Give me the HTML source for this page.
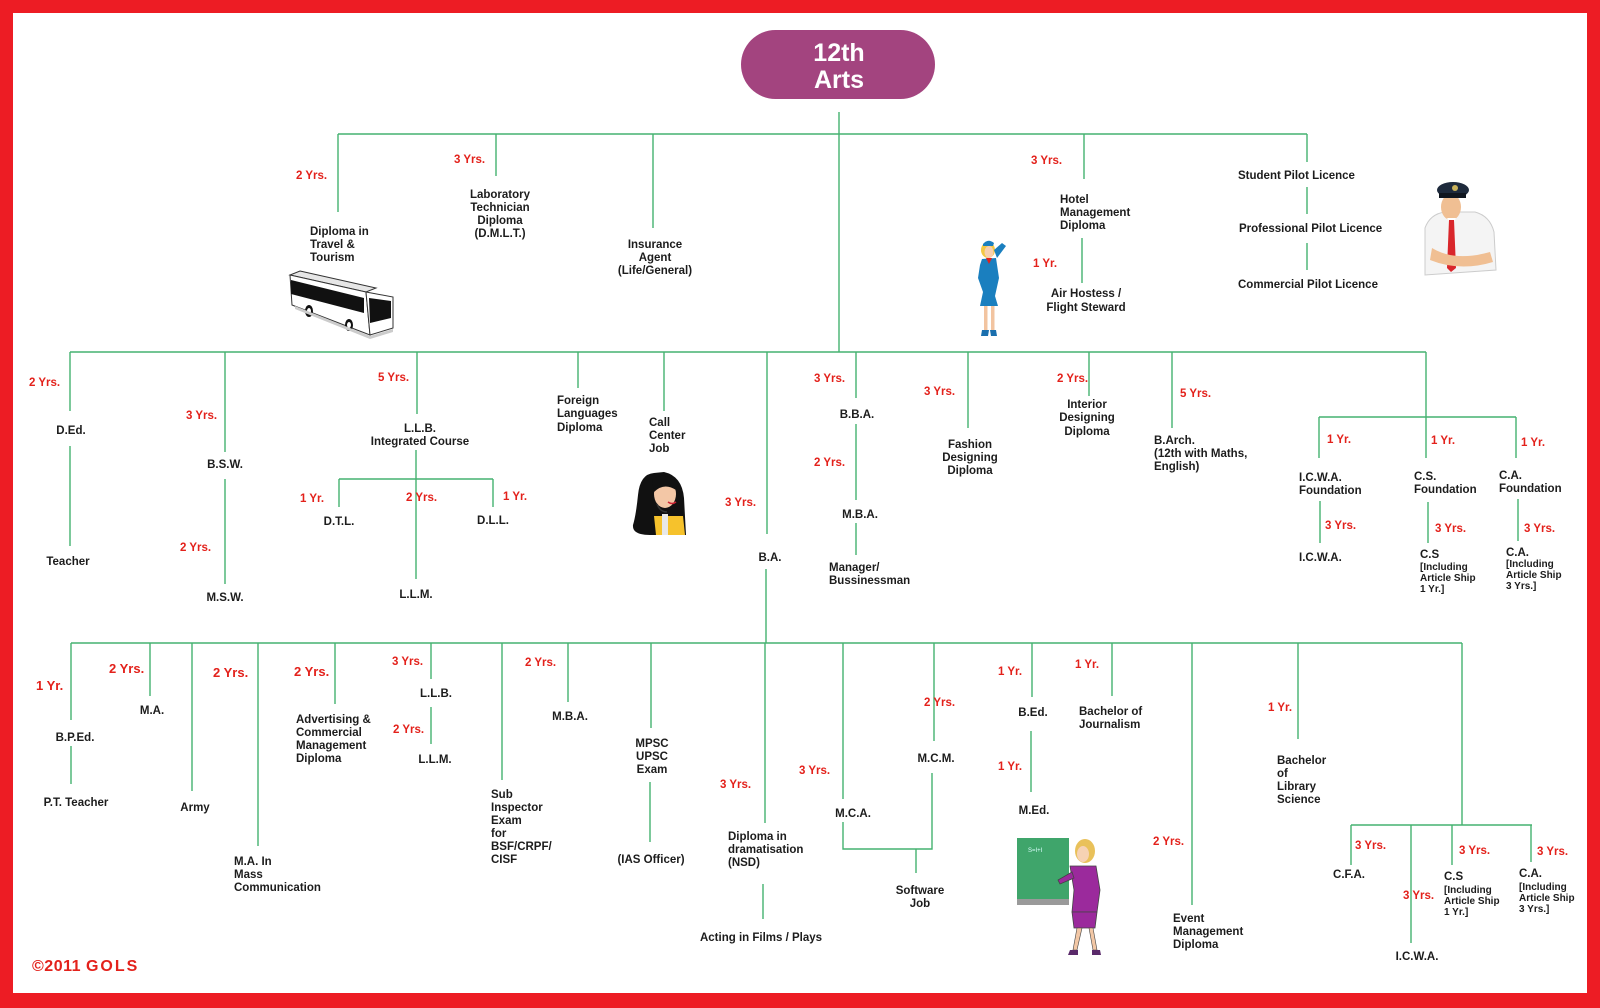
<!DOCTYPE html>
<html>
<head>
<meta charset="utf-8">
<style>
html,body{margin:0;padding:0;background:#fff;}
svg{display:block;}
text{font-family:"Liberation Sans",Arial,sans-serif;font-weight:bold;}
.t{font-size:11.5px;fill:#1c1c1c;}
.s{font-size:10px;fill:#1c1c1c;}
.r{font-size:11.5px;fill:#e3211b;}
.R{font-size:13px;fill:#e3211b;}
.m{text-anchor:middle;}
</style>
</head>
<body>
<svg width="1600" height="1008" viewBox="0 0 1600 1008" xmlns="http://www.w3.org/2000/svg">
<rect x="0" y="0" width="1600" height="1008" fill="#ed1c24"/>
<rect x="13" y="13" width="1574" height="980" fill="#ffffff"/>

<!-- Title -->
<rect x="741" y="30" width="194" height="69" rx="34.5" ry="34.5" fill="#a3447f"/>
<text x="839" y="61" text-anchor="middle" style="font-size:25px;fill:#fff">12th</text>
<text x="839" y="88" text-anchor="middle" style="font-size:25px;fill:#fff">Arts</text>

<!-- connectors -->
<g stroke="#45b270" stroke-width="1.4" fill="none">
<path d="M839 112V352"/>
<path d="M338 134H1307"/>
<path d="M338 134V212M496 134V176M653 134V228M1084 134V179M1082 238V283M1307 134V162M1307 187V214M1307 243V270"/>
<path d="M70 352H1426"/>
<path d="M70 352V411M70 446V546"/>
<path d="M225 352V452M225 479V584"/>
<path d="M417 352V414M416 450V579M339 479H493M339 479V507M493 479V507"/>
<path d="M578 352V388M664 352V411"/>
<path d="M767 352V534M766 569V643"/>
<path d="M856 352V398M856 424V500M856 523V555"/>
<path d="M968 352V428M1089 352V396M1172 352V428"/>
<path d="M1426 352V458M1319 417H1516M1319 417V458M1516 417V458"/>
<path d="M1320 501V543M1428 502V543M1518 499V541"/>
<path d="M71 643H1462"/>
<path d="M71 643V720M71 746V784M150 643V696M192 643V791M258 643V846M335 643V704"/>
<path d="M431 643V679M431 707V744M502 643V780M568 643V702"/>
<path d="M651 643V728M650 782V842M765 643V823M763 884V919"/>
<path d="M843 643V799M843 822V849H932V773M916 849V873M934 643V741"/>
<path d="M1032 643V697M1031 731V792M1112 643V696M1192 643V905M1298 643V739"/>
<path d="M1462 643V825M1351 825H1532M1351 825V865M1411 825V943M1452 825V865M1531 825V862"/>
</g>

<!-- TOP texts -->
<text class="r" x="296" y="179">2 Yrs.</text>
<text class="t" x="310" y="235">Diploma in</text>
<text class="t" x="310" y="248">Travel &amp;</text>
<text class="t" x="310" y="261">Tourism</text>
<text class="r" x="454" y="163">3 Yrs.</text>
<text class="t m" x="500" y="198">Laboratory</text>
<text class="t m" x="500" y="211">Technician</text>
<text class="t m" x="500" y="224">Diploma</text>
<text class="t m" x="500" y="237">(D.M.L.T.)</text>
<text class="t m" x="655" y="248">Insurance</text>
<text class="t m" x="655" y="261">Agent</text>
<text class="t m" x="655" y="274">(Life/General)</text>
<text class="r" x="1031" y="164">3 Yrs.</text>
<text class="t" x="1060" y="203">Hotel</text>
<text class="t" x="1060" y="216">Management</text>
<text class="t" x="1060" y="229">Diploma</text>
<text class="r" x="1033" y="267">1 Yr.</text>
<text class="t m" x="1086" y="297">Air Hostess /</text>
<text class="t m" x="1086" y="311">Flight Steward</text>
<text class="t" x="1238" y="179">Student Pilot Licence</text>
<text class="t" x="1239" y="232">Professional Pilot Licence</text>
<text class="t" x="1238" y="288">Commercial Pilot Licence</text>

<!-- MIDDLE texts -->
<text class="r" x="29" y="386">2 Yrs.</text>
<text class="t m" x="71" y="434">D.Ed.</text>
<text class="t m" x="68" y="565">Teacher</text>
<text class="r" x="186" y="419">3 Yrs.</text>
<text class="t m" x="225" y="468">B.S.W.</text>
<text class="r" x="180" y="551">2 Yrs.</text>
<text class="t m" x="225" y="601">M.S.W.</text>
<text class="r" x="378" y="381">5 Yrs.</text>
<text class="t m" x="420" y="432">L.L.B.</text>
<text class="t m" x="420" y="445">Integrated Course</text>
<text class="r" x="300" y="502">1 Yr.</text>
<text class="t m" x="339" y="525">D.T.L.</text>
<text class="r" x="406" y="501">2 Yrs.</text>
<text class="r" x="503" y="500">1 Yr.</text>
<text class="t m" x="493" y="524">D.L.L.</text>
<text class="t m" x="416" y="598">L.L.M.</text>
<text class="t" x="557" y="404">Foreign</text>
<text class="t" x="557" y="417">Languages</text>
<text class="t" x="557" y="431">Diploma</text>
<text class="t" x="649" y="426">Call</text>
<text class="t" x="649" y="439">Center</text>
<text class="t" x="649" y="452">Job</text>
<text class="r" x="725" y="506">3 Yrs.</text>
<text class="t m" x="770" y="561">B.A.</text>
<text class="r" x="814" y="382">3 Yrs.</text>
<text class="t m" x="857" y="418">B.B.A.</text>
<text class="r" x="814" y="466">2 Yrs.</text>
<text class="t m" x="860" y="518">M.B.A.</text>
<text class="t" x="829" y="571">Manager/</text>
<text class="t" x="829" y="584">Bussinessman</text>
<text class="r" x="924" y="395">3 Yrs.</text>
<text class="t m" x="970" y="448">Fashion</text>
<text class="t m" x="970" y="461">Designing</text>
<text class="t m" x="970" y="474">Diploma</text>
<text class="r" x="1057" y="382">2 Yrs.</text>
<text class="t m" x="1087" y="408">Interior</text>
<text class="t m" x="1087" y="421">Designing</text>
<text class="t m" x="1087" y="435">Diploma</text>
<text class="r" x="1180" y="397">5 Yrs.</text>
<text class="t" x="1154" y="444">B.Arch.</text>
<text class="t" x="1154" y="457">(12th with Maths,</text>
<text class="t" x="1154" y="470">English)</text>
<text class="r" x="1327" y="443">1 Yr.</text>
<text class="t" x="1299" y="481">I.C.W.A.</text>
<text class="t" x="1299" y="494">Foundation</text>
<text class="r" x="1325" y="529">3 Yrs.</text>
<text class="t" x="1299" y="561">I.C.W.A.</text>
<text class="r" x="1431" y="444">1 Yr.</text>
<text class="t" x="1414" y="480">C.S.</text>
<text class="t" x="1414" y="493">Foundation</text>
<text class="r" x="1435" y="532">3 Yrs.</text>
<text class="t" x="1420" y="558">C.S</text>
<text class="s" x="1420" y="570">[Including</text>
<text class="s" x="1420" y="581">Article Ship</text>
<text class="s" x="1420" y="592">1 Yr.]</text>
<text class="r" x="1521" y="446">1 Yr.</text>
<text class="t" x="1499" y="479">C.A.</text>
<text class="t" x="1499" y="492">Foundation</text>
<text class="r" x="1524" y="532">3 Yrs.</text>
<text class="t" x="1506" y="556">C.A.</text>
<text class="s" x="1506" y="567">[Including</text>
<text class="s" x="1506" y="578">Article Ship</text>
<text class="s" x="1506" y="589">3 Yrs.]</text>

<!-- BOTTOM texts -->
<text class="R" x="36" y="690">1 Yr.</text>
<text class="t m" x="75" y="741">B.P.Ed.</text>
<text class="t m" x="76" y="806">P.T. Teacher</text>
<text class="R" x="109" y="673">2 Yrs.</text>
<text class="t m" x="152" y="714">M.A.</text>
<text class="t m" x="195" y="811">Army</text>
<text class="R" x="213" y="677">2 Yrs.</text>
<text class="t" x="234" y="865">M.A. In</text>
<text class="t" x="234" y="878">Mass</text>
<text class="t" x="234" y="891">Communication</text>
<text class="R" x="294" y="676">2 Yrs.</text>
<text class="t" x="296" y="723">Advertising &amp;</text>
<text class="t" x="296" y="736">Commercial</text>
<text class="t" x="296" y="749">Management</text>
<text class="t" x="296" y="762">Diploma</text>
<text class="r" x="392" y="665">3 Yrs.</text>
<text class="t m" x="436" y="697">L.L.B.</text>
<text class="r" x="393" y="733">2 Yrs.</text>
<text class="t m" x="435" y="763">L.L.M.</text>
<text class="t" x="491" y="798">Sub</text>
<text class="t" x="491" y="811">Inspector</text>
<text class="t" x="491" y="824">Exam</text>
<text class="t" x="491" y="837">for</text>
<text class="t" x="491" y="850">BSF/CRPF/</text>
<text class="t" x="491" y="863">CISF</text>
<text class="r" x="525" y="666">2 Yrs.</text>
<text class="t m" x="570" y="720">M.B.A.</text>
<text class="t m" x="652" y="747">MPSC</text>
<text class="t m" x="652" y="760">UPSC</text>
<text class="t m" x="652" y="773">Exam</text>
<text class="t m" x="651" y="863">(IAS Officer)</text>
<text class="r" x="720" y="788">3 Yrs.</text>
<text class="t" x="728" y="840">Diploma in</text>
<text class="t" x="728" y="853">dramatisation</text>
<text class="t" x="728" y="866">(NSD)</text>
<text class="t m" x="761" y="941">Acting in Films / Plays</text>
<text class="r" x="799" y="774">3 Yrs.</text>
<text class="t m" x="853" y="817">M.C.A.</text>
<text class="r" x="924" y="706">2 Yrs.</text>
<text class="t m" x="936" y="762">M.C.M.</text>
<text class="t m" x="920" y="894">Software</text>
<text class="t m" x="920" y="907">Job</text>
<text class="r" x="998" y="675">1 Yr.</text>
<text class="t m" x="1033" y="716">B.Ed.</text>
<text class="r" x="998" y="770">1 Yr.</text>
<text class="t m" x="1034" y="814">M.Ed.</text>
<text class="r" x="1075" y="668">1 Yr.</text>
<text class="t" x="1079" y="715">Bachelor of</text>
<text class="t" x="1079" y="728">Journalism</text>
<text class="r" x="1153" y="845">2 Yrs.</text>
<text class="t" x="1173" y="922">Event</text>
<text class="t" x="1173" y="935">Management</text>
<text class="t" x="1173" y="948">Diploma</text>
<text class="r" x="1268" y="711">1 Yr.</text>
<text class="t" x="1277" y="764">Bachelor</text>
<text class="t" x="1277" y="777">of</text>
<text class="t" x="1277" y="790">Library</text>
<text class="t" x="1277" y="803">Science</text>
<text class="r" x="1355" y="849">3 Yrs.</text>
<text class="t m" x="1349" y="878">C.F.A.</text>
<text class="r" x="1403" y="899">3 Yrs.</text>
<text class="t m" x="1417" y="960">I.C.W.A.</text>
<text class="r" x="1459" y="854">3 Yrs.</text>
<text class="t" x="1444" y="880">C.S</text>
<text class="s" x="1444" y="893">[Including</text>
<text class="s" x="1444" y="904">Article Ship</text>
<text class="s" x="1444" y="915">1 Yr.]</text>
<text class="r" x="1537" y="855">3 Yrs.</text>
<text class="t" x="1519" y="877">C.A.</text>
<text class="s" x="1519" y="890">[Including</text>
<text class="s" x="1519" y="901">Article Ship</text>
<text class="s" x="1519" y="912">3 Yrs.]</text>

<text x="32" y="971" style="font-size:16px;fill:#e3211b;letter-spacing:0.5px">©2011 <tspan style="letter-spacing:2px">GOLS</tspan></text>

<!-- Bus -->
<g stroke="#333" stroke-width="1">
<polygon points="300,271 376,288 366,292 290,275" fill="#e6e6e6"/>
<polygon points="290,275 366,292 370,335 292,305" fill="#fff"/>
<polygon points="366,292 393,297 393,328 370,335" fill="#fff"/>
</g>
<polygon points="291,280 364,298 364,313 291,294" fill="#111"/>
<polygon points="369,298 391,301 391,318 370,323" fill="#111"/>
<ellipse cx="309" cy="311" rx="4" ry="6" fill="#111"/>
<ellipse cx="349" cy="325" rx="4" ry="6" fill="#111"/>
<ellipse cx="309" cy="311" rx="2" ry="3" fill="#fff"/>
<ellipse cx="349" cy="325" rx="2" ry="3" fill="#fff"/>
<polygon points="295,306 370,336 393,329 393,332 370,339 295,309" fill="#ccc"/>

<!-- Air hostess -->
<g>
<ellipse cx="988" cy="250" rx="7" ry="8" fill="#f3c843"/>
<ellipse cx="989" cy="252" rx="4.5" ry="6" fill="#f7cfae"/>
<path d="M983 244 Q988 238 994 243 L993 246 L983 246Z" fill="#1a7fbf"/>
<path d="M994 250 L1002 243 L1006 246 L997 258Z" fill="#1a7fbf"/>
<path d="M982 259 L996 258 L999 278 L995 296 L998 306 L980 306 L983 292 L978 278 L980 265Z" fill="#1a7fbf"/>
<path d="M986 258 L992 258 L989 264Z" fill="#e3211b"/>
<rect x="984" y="306" width="3.5" height="24" fill="#f2c4a0"/>
<rect x="991" y="306" width="3.5" height="24" fill="#f2c4a0"/>
<path d="M982 330 L989 330 L988 336 L981 336Z" fill="#1a6fae"/>
<path d="M990 330 L996 330 L997 336 L991 336Z" fill="#1a6fae"/>
</g>

<!-- Pilot -->
<g>
<path d="M1425 228 Q1430 214 1445 212 L1475 212 Q1490 216 1494 232 L1496 270 L1425 275Z" fill="#f4f4f4" stroke="#ccc" stroke-width="1"/>
<ellipse cx="1451" cy="207" rx="10" ry="13" fill="#f0bf93"/>
<path d="M1447 218 L1456 218 L1452 226Z" fill="#fff"/>
<path d="M1449 220 L1454 220 L1456 268 L1451 272 L1447 268Z" fill="#d9262b"/>
<ellipse cx="1453" cy="190" rx="16" ry="8" fill="#1e2a3c"/>
<rect x="1439" y="193" width="27" height="5" fill="#10161f"/>
<circle cx="1455" cy="188" r="3" fill="#c9b25a"/>
<path d="M1432 248 Q1455 262 1490 252 L1493 262 Q1460 272 1430 260Z" fill="#f0bf93"/>
</g>

<!-- Call center lady -->
<g>
<path d="M654 473 Q640 474 638 495 Q636 515 633 525 Q632 535 650 535 L686 535 L684 498 Q682 476 664 472Z" fill="#111"/>
<ellipse cx="665" cy="494" rx="11" ry="14" fill="#f3c7a6"/>
<path d="M652 480 Q664 470 678 484 L676 490 Q664 482 654 492Z" fill="#111"/>
<path d="M654 516 L683 516 L685 535 L656 535Z" fill="#f6c22c"/>
<rect x="662" y="514" width="6" height="21" fill="#e8e8e8"/>
<path d="M657 504 Q660 512 667 512" stroke="#333" stroke-width="1.5" fill="none"/>
<path d="M668 502 Q672 505 676 502" stroke="#c23" stroke-width="1.5" fill="none"/>
</g>

<!-- Teacher with board -->
<g>
<rect x="1017" y="838" width="52" height="66" fill="#3fa56b"/>
<rect x="1017" y="899" width="52" height="6" fill="#9a9a9a"/>
<text x="1028" y="852" style="font-size:6px;fill:#dff;font-weight:normal">S=I+I</text>
<ellipse cx="1085" cy="851" rx="10" ry="12" fill="#e9c15a"/>
<ellipse cx="1083" cy="854" rx="6" ry="8" fill="#f6d2b4"/>
<path d="M1070 866 L1096 866 L1100 890 L1097 912 L1072 912 L1074 890Z" fill="#9b2a9c" stroke="#444" stroke-width="0.8"/>
<path d="M1072 872 L1058 880 L1060 884 L1074 878Z" fill="#9b2a9c" stroke="#444" stroke-width="0.8"/>
<path d="M1072 912 L1097 912 L1095 928 L1074 928Z" fill="#9b2a9c" stroke="#444" stroke-width="0.8"/>
<path d="M1077 928 L1073 950 L1077 950 L1082 928Z" fill="#f2c7a5" stroke="#444" stroke-width="0.6"/>
<path d="M1089 928 L1093 950 L1097 950 L1093 928Z" fill="#f2c7a5" stroke="#444" stroke-width="0.6"/>
<path d="M1070 950 L1078 950 L1078 955 L1068 955Z" fill="#5a2a6a"/>
<path d="M1092 950 L1100 950 L1101 955 L1092 955Z" fill="#5a2a6a"/>
</g>
</svg>
</body>
</html>
